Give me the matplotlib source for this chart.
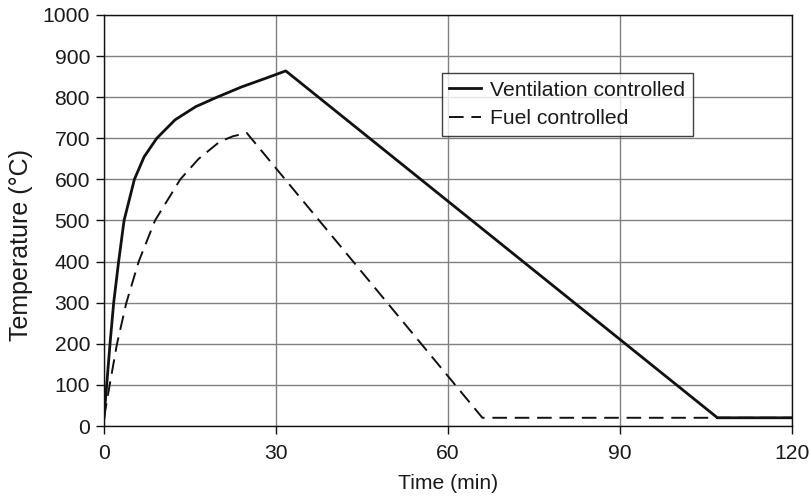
import numpy as np
import matplotlib.pyplot as plt

plt.rcParams['font.family'] = ['Liberation Sans', 'DejaVu Sans']

# ventilation controlled curve (min, degC)
vent_t = [0, 0.47, 1.05, 1.69, 2.55, 3.5, 5.3, 7.0, 9.2, 12.4, 16.0, 19.7, 24.0, 28.0, 31.7, 107.0, 120.0]
vent_T = [20, 100, 200, 300, 400, 500, 600, 655, 700, 745, 777, 800, 825, 845, 864, 20, 20]

# fuel controlled curve
fuel_t = [0, 0.5, 0.99, 2.27, 3.9, 6.05, 8.9, 13.3, 16.5, 20.2, 22.5, 24.9, 66.0, 120.0]
fuel_T = [20, 60, 100, 200, 300, 400, 500, 600, 650, 692, 705, 713, 20, 20]

xticks = [0, 30, 60, 90, 120]
yticks = np.arange(0, 1001, 100)

fs = 15.2
txt = '#1a1a1a'

fig = plt.figure(figsize=(8.12, 4.99), dpi=100)
ax = fig.add_axes([104/812, 1 - 426/499, 688/812, 411/499])

ax.plot(vent_t, vent_T, color='#111111', lw=2.0, label='Ventilation controlled')
ax.plot(fuel_t, fuel_T, color='#111111', lw=1.4, dashes=(7.5, 4), label='Fuel controlled')

ax.set_xlim(0, 120)
ax.set_ylim(0, 1000)
ax.set_xticks(xticks)
ax.set_yticks(yticks)
ax.grid(True, color='#808080', lw=1.0)
ax.set_axisbelow(True)
for s in ax.spines.values():
    s.set_color('#111111')
    s.set_linewidth(1.0)
ax.tick_params(direction='out', length=6, width=1.0, colors='#111111',
               labelsize=fs, labelcolor=txt, pad=4)
ax.tick_params(axis='x', pad=7)

ax.set_xlabel('Time (min)', fontsize=fs, color=txt, labelpad=8)
ax.set_ylabel('Temperature (°C)', fontsize=18, color=txt)
ax.yaxis.set_label_coords(-0.103, 0.44)

leg = ax.legend(loc='upper left', bbox_to_anchor=(0.491, 0.858), borderaxespad=0,
                fontsize=fs, frameon=True, fancybox=False, handlelength=1.5,
                handletextpad=0.45, labelspacing=0.45, borderpad=0.35)
leg.get_frame().set_edgecolor('#111111')
leg.get_frame().set_linewidth(1.0)
for t in leg.get_texts():
    t.set_color(txt)

fig.savefig('out.png', dpi=100)
